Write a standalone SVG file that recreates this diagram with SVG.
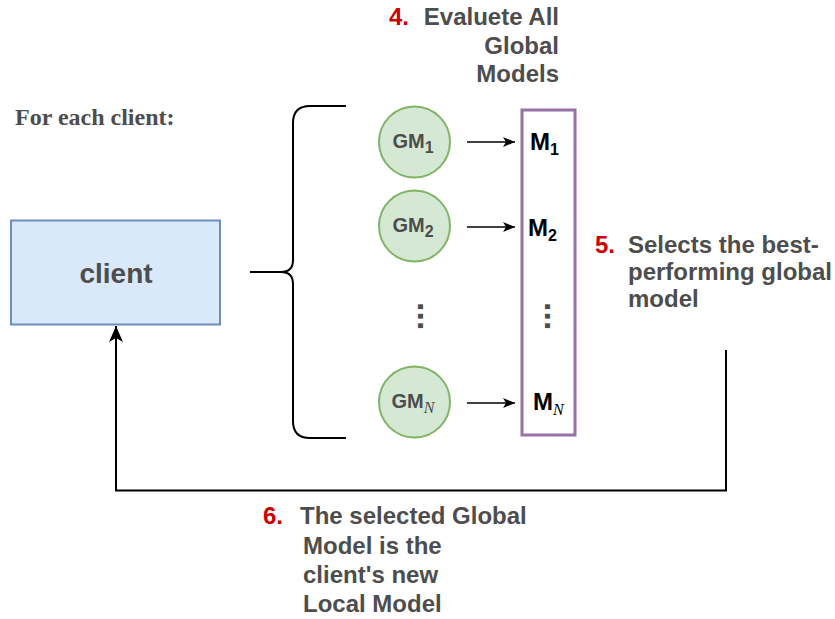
<svg xmlns="http://www.w3.org/2000/svg" width="835" height="619" viewBox="0 0 835 619">
  <style>
    .lbl { font-family: "Liberation Sans", Arial, sans-serif; font-weight: bold; font-size: 24px; fill: #4d4d4d; }
    .big { font-size: 28px; }
    .num { fill: #cc0000; }
    .gm { font-family: "Liberation Sans", Arial, sans-serif; font-weight: bold; font-size: 20px; fill: #4d4d4d; }
    .m { font-family: "Liberation Sans", Arial, sans-serif; font-weight: bold; font-size: 24px; fill: #000; }
    .sub { font-size: 16px; }
    .ital { font-family: "Liberation Serif", "Times New Roman", serif; font-style: italic; font-weight: normal; }
    .dots { font-family: "Liberation Sans", Arial, sans-serif; font-weight: bold; font-size: 34px; fill: #4d4d4d; }
    .gmc { fill: #d5e8d4; stroke: #82b366; stroke-width: 2; }
    .wire { fill: none; stroke: #000; stroke-width: 2; }
    .thin { stroke-width: 1.6; }
  </style>
  <defs>
    <marker id="arrowSmall" markerUnits="userSpaceOnUse" markerWidth="14" markerHeight="12" refX="12" refY="5" orient="auto">
      <path d="M0,0 L12,5 L0,10 L3,5 Z" fill="#000"/>
    </marker>
    <marker id="arrowBig" markerUnits="userSpaceOnUse" markerWidth="18" markerHeight="16" refX="16" refY="7" orient="auto">
      <path d="M0,0 L16,7 L0,14 L4,7 Z" fill="#000"/>
    </marker>
  </defs>

  <rect width="835" height="619" fill="#fff"/>

  <!-- heading -->
  <text id="heading" x="15" y="125" font-family="'Liberation Serif', 'Times New Roman', serif" font-weight="bold" font-size="24" fill="#4d4d4d">For each client:</text>

  <!-- client node -->
  <g id="client">
    <rect x="11" y="220.5" width="209" height="104" fill="#dae8fc" stroke="#6c8ebf" stroke-width="2"/>
    <text x="116" y="283" text-anchor="middle" class="lbl big">client</text>
  </g>

  <!-- global models -->
  <g id="gm1">
    <circle cx="414.5" cy="142" r="35.5" class="gmc"/>
    <text x="413" y="148" text-anchor="middle" class="gm">GM<tspan class="sub" dy="5">1</tspan></text>
  </g>
  <g id="gm2">
    <circle cx="414.5" cy="226" r="35.5" class="gmc"/>
    <text x="413" y="232" text-anchor="middle" class="gm">GM<tspan class="sub" dy="5">2</tspan></text>
  </g>
  <g id="gm-dots">
    <text transform="translate(418,302) rotate(90)" class="dots">...</text>
  </g>
  <g id="gmN">
    <circle cx="414.5" cy="402" r="35.5" class="gmc"/>
    <text x="413" y="408" text-anchor="middle" class="gm">GM<tspan class="sub ital" dy="5">N</tspan></text>
  </g>

  <!-- evaluated models column -->
  <g id="results">
    <rect x="522" y="110" width="53" height="325" fill="#fff" stroke="#9673a6" stroke-width="3"/>
    <text x="530" y="150" class="m">M<tspan class="sub" dy="5">1</tspan></text>
    <text x="528" y="236" class="m">M<tspan class="sub" dy="5">2</tspan></text>
    <text transform="translate(545,302) rotate(90)" class="dots">...</text>
    <text x="533" y="410" class="m">M<tspan class="sub ital" dy="5">N</tspan></text>
  </g>

  <!-- step labels -->
  <g id="step4">
    <text x="389" y="25" class="lbl num">4.</text>
    <text x="559" y="25" text-anchor="end" class="lbl">Evaluete All</text>
    <text x="559" y="54" text-anchor="end" class="lbl">Global</text>
    <text x="559" y="82" text-anchor="end" class="lbl">Models</text>
  </g>
  <g id="step5">
    <text x="595" y="253" class="lbl num">5.</text>
    <text x="628" y="253" class="lbl">Selects the best-</text>
    <text x="628" y="280" class="lbl">performing global</text>
    <text x="628" y="307" class="lbl">model</text>
  </g>
  <g id="step6">
    <text x="263" y="524" class="lbl num">6.</text>
    <text x="300" y="524" class="lbl">The selected Global</text>
    <text x="303" y="554" class="lbl">Model is the</text>
    <text x="303" y="583" class="lbl">client's new</text>
    <text x="303" y="612" class="lbl">Local Model</text>
  </g>

  <!-- connectors -->
  <g id="connectors">
    <path class="wire" d="M250,272 H281 Q293,272 293,284 V421 Q293,438 310,438 H346"/>
    <path class="wire" d="M281,272 Q293,272 293,260 V123 Q293,106 310,106 H346"/>
    <line class="wire thin" x1="467" y1="142" x2="515" y2="142" marker-end="url(#arrowSmall)"/>
    <line class="wire thin" x1="467" y1="227" x2="515" y2="227" marker-end="url(#arrowSmall)"/>
    <line class="wire thin" x1="467" y1="403" x2="515" y2="403" marker-end="url(#arrowSmall)"/>
    <path class="wire" d="M726,350 V490.5 H116 V326" marker-end="url(#arrowBig)"/>
  </g>
</svg>
